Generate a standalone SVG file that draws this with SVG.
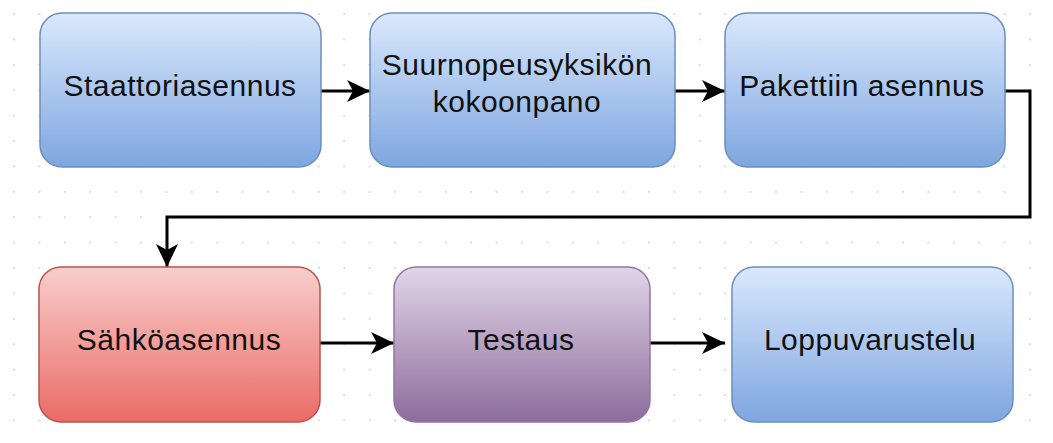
<svg xmlns="http://www.w3.org/2000/svg" width="1053" height="443" viewBox="0 0 1053 443">
  <defs>
    <pattern id="grid" x="1.3" y="1.3" width="25.4" height="25.4" patternUnits="userSpaceOnUse">
      <circle cx="12.7" cy="12.7" r="1" fill="#cfcfcf"/>
    </pattern>
    <linearGradient id="gBlue" x1="0" y1="0" x2="0" y2="1">
      <stop offset="0" stop-color="#dae8fc"/>
      <stop offset="1" stop-color="#7ea6e0"/>
    </linearGradient>
    <linearGradient id="gRed" x1="0" y1="0" x2="0" y2="1">
      <stop offset="0" stop-color="#f8cecc"/>
      <stop offset="1" stop-color="#ea6b66"/>
    </linearGradient>
    <linearGradient id="gPurple" x1="0" y1="0" x2="0" y2="1">
      <stop offset="0" stop-color="#e1d5e7"/>
      <stop offset="1" stop-color="#8c6c9c"/>
    </linearGradient>
    <marker id="arr" markerUnits="userSpaceOnUse" markerWidth="24" markerHeight="24" refX="23" refY="11" orient="auto" viewBox="0 0 24 22">
      <path d="M0,0 L23,11 L0,22 L6,11 Z" fill="#000"/>
    </marker>
  </defs>
  <style>
    .blue { fill: url(#gBlue); stroke: #6c8ebf; stroke-width: 1.5; }
    .red { fill: url(#gRed); stroke: #b85450; stroke-width: 1.5; }
    .purple { fill: url(#gPurple); stroke: #9673a6; stroke-width: 1.5; }
    .lbl { font-family: "Liberation Sans", Arial, sans-serif; font-size: 30px; letter-spacing: 0.5px; fill: #111; text-anchor: middle; }
    .edge { fill: none; stroke: #000; stroke-width: 3; marker-end: url(#arr); }
  </style>
  <rect width="1053" height="443" fill="#fff"/>
  <rect width="1053" height="443" fill="url(#grid)"/>

  <g id="connectors">
    <path class="edge" d="M321,91 H370"/>
    <path class="edge" d="M675,91 H725"/>
    <path class="edge" d="M1005,91 H1030 V217 H167 V267"/>
    <path class="edge" d="M320,343 H394"/>
    <path class="edge" d="M650,343 H725"/>
  </g>

  <g id="n1">
    <rect class="blue" x="40" y="13" width="281" height="154" rx="22" ry="22"/>
    <text class="lbl" x="180" y="96">Staattoriasennus</text>
  </g>
  <g id="n2">
    <rect class="blue" x="370" y="13" width="305" height="154" rx="22" ry="22"/>
    <text class="lbl" x="517" y="75">Suurnopeusyksikön</text>
    <text class="lbl" x="517" y="112">kokoonpano</text>
  </g>
  <g id="n3">
    <rect class="blue" x="725" y="13" width="280" height="154" rx="22" ry="22"/>
    <text class="lbl" x="862" y="96">Pakettiin asennus</text>
  </g>
  <g id="n4">
    <rect class="red" x="39" y="267" width="281" height="155" rx="22" ry="22"/>
    <text class="lbl" x="179" y="350">Sähköasennus</text>
  </g>
  <g id="n5">
    <rect class="purple" x="394" y="267" width="256" height="155" rx="22" ry="22"/>
    <text class="lbl" x="521" y="350">Testaus</text>
  </g>
  <g id="n6">
    <rect class="blue" x="732" y="267" width="281" height="155" rx="22" ry="22"/>
    <text class="lbl" x="870" y="350">Loppuvarustelu</text>
  </g>
</svg>
